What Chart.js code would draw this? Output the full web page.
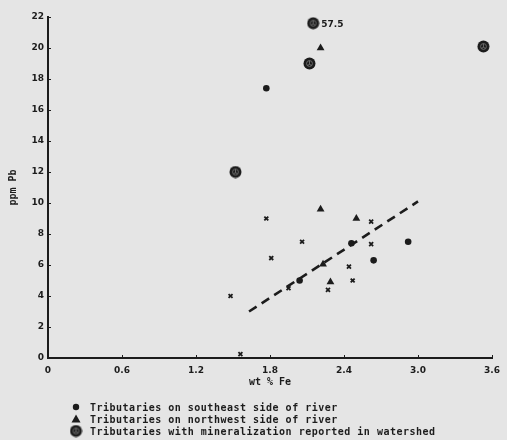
<!DOCTYPE html>
<html>
<head>
<meta charset="utf-8">
<script src="https://cdn.jsdelivr.net/npm/chart.js@4/dist/chart.umd.min.js"></script>
<style>
  html, body { margin: 0; padding: 0; background: #e5e5e5; }
  #wrap { width: 507px; height: 440px; }
</style>
</head>
<body>
<div id="wrap"><canvas id="chart" width="507" height="440"></canvas></div>
<script>
// Samples, wt % Fe vs ppm Pb
const southeastFe = [1.77, 2.46, 2.92, 2.64, 2.04];
const southeastPb = [17.4, 7.4, 7.5, 6.3, 5.0];

const northwestFe = [2.21, 2.21, 2.50, 2.23, 2.29];
const northwestPb = [20.0, 9.6, 9.0, 6.05, 4.9];

// first one is off scale (57.5 ppm), plotted at the top of the axis
const mineralFe = [2.15, 2.12, 3.53, 1.52];
const mineralPb = [21.6, 19.0, 20.1, 12.0];
const mineralNotes = ['57.5', '', '', ''];

const otherFe = [1.77, 2.62, 2.06, 2.62, 1.81, 2.44, 1.95, 2.27, 2.47, 1.48, 1.56];
const otherPb = [9.0, 8.8, 7.5, 7.35, 6.45, 5.9, 4.5, 4.4, 5.0, 4.0, 0.25];

const trendFe = [1.63, 3.0];
const trendPb = [3.0, 10.1];

const xTicks = [0, 0.6, 1.2, 1.8, 2.4, 3.0, 3.6];
const yTicks = [0, 2, 4, 6, 8, 10, 12, 14, 16, 18, 20, 22];

const legendLabels = [
    'Tributaries on southeast side of river',
    'Tributaries on northwest side of river',
    'Tributaries with mineralization reported in watershed'
];

const ink = '#1c1c1c';

function toPoints(xs, ys) {
    return xs.map((x, i) => ({ x: x, y: ys[i] }));
}

// Dark disc with a faint inner mark, used for mineralized tributaries
function mineralSymbol(size) {
    const c = document.createElement('canvas');
    c.width = size;
    c.height = size;
    const g = c.getContext('2d');
    const r = size / 2;
    g.fillStyle = ink;
    g.beginPath();
    g.arc(r, r, r - 0.5, 0, Math.PI * 2);
    g.fill();
    g.strokeStyle = '#6a6a6a';
    g.lineWidth = 1;
    g.beginPath();
    g.arc(r, r, r * 0.45, 0, Math.PI * 2);
    g.stroke();
    g.beginPath();
    g.moveTo(r, r - r * 0.45);
    g.lineTo(r, r + r * 0.15);
    g.lineTo(r - r * 0.35, r + r * 0.3);
    g.moveTo(r, r + r * 0.15);
    g.lineTo(r + r * 0.35, r + r * 0.3);
    g.stroke();
    return c;
}

const mineralImg = mineralSymbol(13);
const mineralImgSmall = mineralSymbol(13);

// Background, inner ticks, the 57.5 note and the legend
const extrasPlugin = {
    id: 'extras',
    beforeDraw(chart) {
        const c = chart.ctx;
        c.save();
        c.fillStyle = '#e5e5e5';
        c.fillRect(0, 0, chart.width, chart.height);
        c.restore();
    },
    afterDraw(chart) {
        const c = chart.ctx;
        const xs = chart.scales.x;
        const ys = chart.scales.y;
        c.save();
        c.strokeStyle = ink;
        c.lineWidth = 1;
        yTicks.forEach(v => {
            const py = Math.round(ys.getPixelForValue(v)) + 0.5;
            c.beginPath();
            c.moveTo(xs.left, py);
            c.lineTo(xs.left + 3, py);
            c.stroke();
        });
        xTicks.forEach(v => {
            const px = Math.round(xs.getPixelForValue(v)) + 0.5;
            c.beginPath();
            c.moveTo(px, ys.bottom);
            c.lineTo(px, ys.bottom - 3);
            c.stroke();
        });

        c.fillStyle = ink;
        c.font = 'bold 9px "DejaVu Sans"';
        c.textBaseline = 'middle';
        mineralNotes.forEach((note, i) => {
            if (!note) return;
            const px = xs.getPixelForValue(mineralFe[i]);
            const py = ys.getPixelForValue(mineralPb[i]);
            c.fillText(note, px + 8, py + 1);
        });

        // legend
        const symbols = [
            () => { c.beginPath(); c.arc(0, 0, 3.2, 0, Math.PI * 2); c.fill(); },
            () => { c.beginPath(); c.moveTo(0, -4.5); c.lineTo(4.5, 3.5); c.lineTo(-4.5, 3.5); c.closePath(); c.fill(); },
            () => { c.drawImage(mineralImgSmall, -6.5, -6.5); }
        ];
        const rowY = [407, 419, 431];
        c.font = 'bold 10px "DejaVu Sans Mono"';
        c.letterSpacing = '0.5px';
        legendLabels.forEach((label, i) => {
            c.save();
            c.translate(76, rowY[i]);
            symbols[i]();
            c.restore();
            c.fillText(label, 90, rowY[i] + 1);
        });
        c.restore();
    }
};

new Chart(document.getElementById('chart'), {
    type: 'scatter',
    data: {
        datasets: [{
            label: 'trend',
            type: 'line',
            data: toPoints(trendFe, trendPb),
            borderColor: ink,
            borderWidth: 2.6,
            borderDash: [9, 6],
            pointRadius: 0,
            fill: false
        }, {
            label: legendLabels[0],
            data: toPoints(southeastFe, southeastPb),
            pointStyle: 'circle',
            pointRadius: 3.3,
            backgroundColor: ink,
            borderColor: ink,
            borderWidth: 0
        }, {
            label: legendLabels[1],
            data: toPoints(northwestFe, northwestPb),
            pointStyle: 'triangle',
            pointRadius: 4.5,
            backgroundColor: ink,
            borderColor: ink,
            borderWidth: 0
        }, {
            label: legendLabels[2],
            data: toPoints(mineralFe, mineralPb),
            pointStyle: mineralImg,
            pointRadius: 7
        }, {
            label: 'other',
            data: toPoints(otherFe, otherPb),
            pointStyle: 'crossRot',
            pointRadius: 2.8,
            borderColor: ink,
            borderWidth: 1.8
        }]
    },
    options: {
        responsive: false,
        animation: false,
        events: [],
        layout: {
            padding: { left: 0, right: 12, top: 17, bottom: 52 }
        },
        plugins: {
            legend: { display: false },
            tooltip: { enabled: false }
        },
        scales: {
            x: {
                type: 'linear',
                min: 0,
                max: 3.6,
                afterBuildTicks(scale) {
                    scale.ticks = xTicks.map(v => ({ value: v }));
                },
                afterFit(scale) {
                    scale.height = 30;
                },
                grid: { display: false, drawTicks: false },
                border: { display: true, color: ink, width: 2 },
                ticks: {
                    color: ink,
                    padding: 7,
                    font: { family: 'DejaVu Sans', size: 9, weight: 'bold' },
                    callback: v => (v === 0 ? '0' : v.toFixed(1))
                },
                title: {
                    display: true,
                    text: 'wt % Fe',
                    color: ink,
                    padding: { top: 0, bottom: 0 },
                    font: { family: 'DejaVu Sans Mono', size: 10, weight: 'bold' }
                }
            },
            y: {
                type: 'linear',
                min: 0,
                max: 22,
                afterBuildTicks(scale) {
                    scale.ticks = yTicks.map(v => ({ value: v }));
                },
                afterFit(scale) {
                    scale.width = 48;
                },
                grid: { display: false, drawTicks: false },
                border: { display: true, color: ink, width: 2 },
                ticks: {
                    color: ink,
                    padding: 4,
                    font: { family: 'DejaVu Sans', size: 9, weight: 'bold' },
                    callback: v => String(v)
                },
                title: {
                    display: true,
                    text: 'ppm Pb',
                    color: ink,
                    padding: { top: 7, bottom: 0 },
                    font: { family: 'DejaVu Sans Mono', size: 10, weight: 'bold' }
                }
            }
        }
    },
    plugins: [extrasPlugin]
});
</script>
</body>
</html>
